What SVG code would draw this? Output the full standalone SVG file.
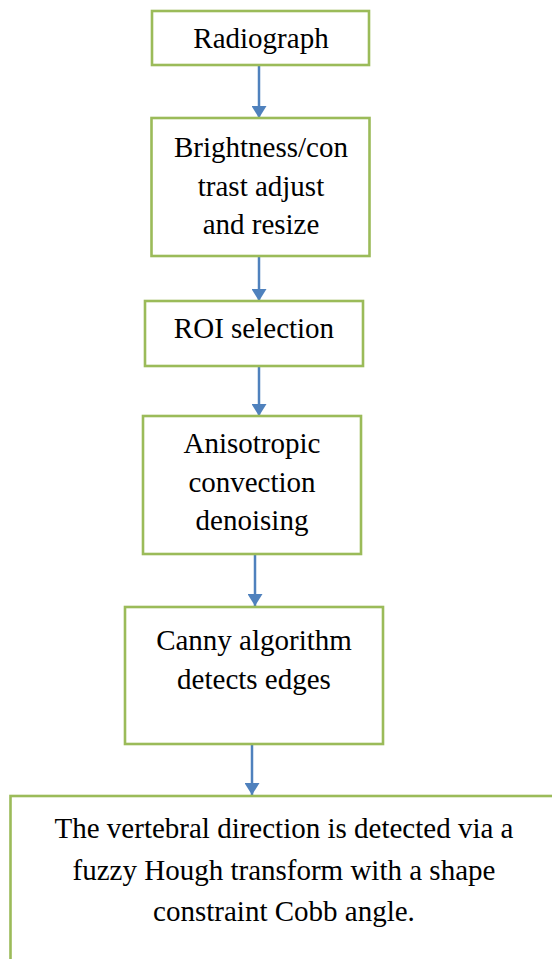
<svg xmlns="http://www.w3.org/2000/svg" width="552" height="959" viewBox="0 0 552 959">
<style>
.box{fill:#ffffff;stroke:#9BBB59;stroke-width:2.6}
.t{font-family:'Liberation Serif','DejaVu Serif',serif;font-size:29px;fill:#000000;text-anchor:middle}
.c{stroke:#4F81BD;stroke-width:2.5;fill:none}
</style>
<defs>
<marker id="ah" viewBox="0 0 12 15" refX="12" refY="7.5" markerWidth="12" markerHeight="15" markerUnits="userSpaceOnUse" orient="auto">
<path d="M0,0 L12,7.5 L0,15 z" fill="#4F81BD"/>
</marker>
</defs>
<rect width="552" height="959" fill="#ffffff"/>
<g id="connectors">
<line class="c" x1="259" y1="66" x2="259" y2="118" marker-end="url(#ah)"/>
<line class="c" x1="259" y1="257" x2="259" y2="301" marker-end="url(#ah)"/>
<line class="c" x1="259" y1="367" x2="259" y2="416" marker-end="url(#ah)"/>
<line class="c" x1="255" y1="555" x2="255" y2="606" marker-end="url(#ah)"/>
<line class="c" x1="252" y1="745" x2="252" y2="795" marker-end="url(#ah)"/>
</g>
<g id="radiograph">
<rect class="box" x="152" y="11" width="217" height="54"/>
<text class="t" font-family="Liberation Serif, serif" x="261" y="48">Radiograph</text>
</g>
<g id="brightness">
<rect class="box" x="151.5" y="118" width="218" height="138"/>
<text class="t" x="261" y="157">Brightness/con</text>
<text class="t" x="261" y="196">trast adjust</text>
<text class="t" x="261" y="234">and resize</text>
</g>
<g id="roi">
<rect class="box" x="145" y="301" width="218" height="65"/>
<text class="t" x="254" y="338">ROI selection</text>
</g>
<g id="anisotropic">
<rect class="box" x="143" y="416" width="218" height="138"/>
<text class="t" x="252" y="453">Anisotropic</text>
<text class="t" x="252" y="492">convection</text>
<text class="t" x="252" y="530">denoising</text>
</g>
<g id="canny">
<rect class="box" x="125" y="607" width="258" height="137"/>
<text class="t" x="254" y="650">Canny algorithm</text>
<text class="t" x="254" y="689">detects edges</text>
</g>
<g id="hough">
<rect class="box" x="10.5" y="796" width="548" height="200"/>
<text class="t" x="284" y="838">The vertebral direction is detected via a</text>
<text class="t" x="284" y="880">fuzzy Hough transform with a shape</text>
<text class="t" x="284" y="921">constraint Cobb angle.</text>
</g>
</svg>
